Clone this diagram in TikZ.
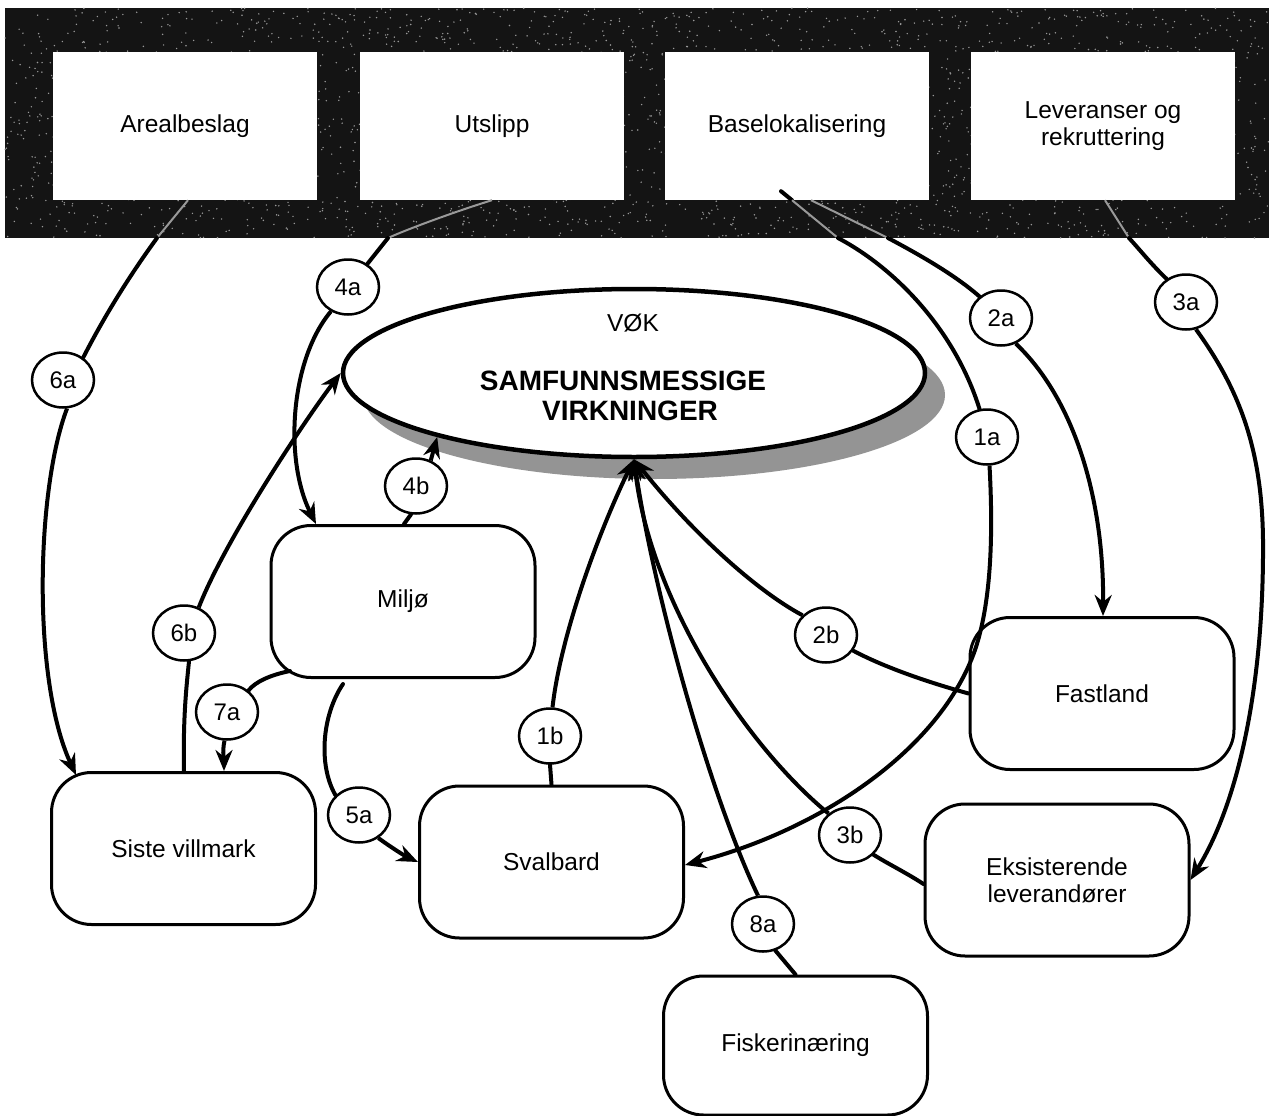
\documentclass[tikz,border=0pt]{standalone}
\usepackage{fontspec}
\setmainfont{Liberation Sans}
\usetikzlibrary{arrows.meta,shapes.geometric}

\begin{document}
\begin{tikzpicture}[x=1pt,y=-1pt,
  txt/.style={font=\fontsize{24.5}{27}\selectfont},
  topbox/.style={txt, fill=white, minimum width=264pt, minimum height=148pt, inner sep=0pt, align=center},
  roundbox/.style={txt, draw, line width=3pt, fill=white, rounded corners=40pt,
                   minimum width=264pt, minimum height=152pt, inner sep=0pt, align=center},
  badge/.style={font=\fontsize{24}{26}\selectfont, draw, ellipse, line width=2.5pt, fill=white,
                minimum width=62pt, minimum height=55pt, inner sep=0pt},
  conn/.style={line width=4pt, line cap=round},
  tipconn/.style={line width=4pt, -{Stealth[length=21pt,width=17pt]}},
  trace/.style={line width=2pt, draw=black!40}]

\useasboundingbox (0,0) rectangle (1269,1116);

% dark header band with grain
\fill[black!92] (5,8) rectangle (1269,238);
\pgfmathsetseed{7}
\foreach \k in {1,...,2600}
  \fill[black!40] ({5+1264*rnd},{8+230*rnd}) circle[radius=0.8];

% header categories
\node[topbox] (n1) at (185,126) {Arealbeslag};
\node[topbox] (n2) at (492,126) {Utslipp};
\node[topbox] (n3) at (797,126) {Baselokalisering};
\node[topbox] (n4) at (1103,126) {Leveranser og\\rekruttering};

% points where the links leave the band
\coordinate (e6a) at (157,238);
\coordinate (e4a) at (388,238);
\coordinate (e1a) at (838,238);
\coordinate (e2a) at (888,238);
\coordinate (e3a) at (1129,238);

% central ellipse with shadow
\fill[black!42] (654,395) ellipse [x radius=291, y radius=84];
\node[draw, ellipse, line width=4.5pt, fill=white, minimum width=582pt,
      minimum height=168pt, inner sep=0pt] (vok) at (634,373) {};
\node[txt, anchor=base] at (633,331) {VØK};
\node[font=\bfseries\fontsize{28}{30}\selectfont, anchor=base] at (623,390) {SAMFUNNSMESSIGE};
\node[font=\bfseries\fontsize{28}{30}\selectfont, anchor=base] at (630,420) {VIRKNINGER};

% impact areas
\node[roundbox] (milj)  at (403,601.5) {Miljø};
\node[roundbox] (siste) at (183.5,848.5) {Siste villmark};
\node[roundbox] (sval)  at (551.5,862) {Svalbard};
\node[roundbox] (fast)  at (1102,693.5) {Fastland};
\node[roundbox] (eks)   at (1057,880) {Eksisterende\\leverandører};
\node[roundbox, minimum height=139pt] (fisk) at (795.5,1045.5) {Fiskerinæring};

% numbered badges
\node[badge] (c6a) at (63,380) {6a};
\node[badge] (c4a) at (348,287) {4a};
\node[badge] (c2a) at (1001,318) {2a};
\node[badge] (c3a) at (1186,302) {3a};
\node[badge] (c1a) at (987,437) {1a};
\node[badge] (c4b) at (416,486) {4b};
\node[badge] (c6b) at (184,633) {6b};
\node[badge] (c7a) at (227,712) {7a};
\node[badge] (c2b) at (826,635) {2b};
\node[badge] (c1b) at (550,736) {1b};
\node[badge] (c5a) at (359,815) {5a};
\node[badge] (c3b) at (850,835) {3b};
\node[badge] (c8a) at (763,924) {8a};

% 6: Arealbeslag
\draw[trace] ([xshift=3pt]n1.south) -- (e6a);
\draw[conn] (e6a) .. controls (130,275) and (105,315) .. (c6a.48);
\draw[tipconn] (c6a.-82) .. controls (36,490) and (32,680) .. ([xshift=-107.5pt,yshift=-4pt]siste.north);
\draw[conn] ([xshift=0.5pt]siste.north) .. controls (183,720) and (186,690) .. (c6b.-80);
\draw[tipconn] (c6b.60) .. controls (225,540) and (305,420) .. (vok.west);

% 4: Utslipp
\draw[trace] (n2.south) .. controls (460,210) and (410,228) .. (e4a);
\draw[conn] (e4a) -- (c4a.50);
\draw[tipconn] (c4a.-125) .. controls (290,360) and (284,460) .. ([xshift=-87pt]milj.north);
\draw[conn] ([xshift=1pt]milj.north) -- (c4b.-100);
\draw[tipconn] (c4b.60) -- (vok.198.5);

% 7 and 5: Miljø
\draw[conn] ([xshift=-113pt,yshift=8pt]milj.south) .. controls (270,675) and (255,682) .. (c7a.45);
\draw[tipconn] (c7a.-95) .. controls (222,752) and (224,762) .. ([xshift=40.5pt]siste.north);
\draw[conn] ([xshift=-60pt,yshift=-5pt]milj.south) .. controls (322,715) and (318,765) .. (c5a.140);
\draw[tipconn] (c5a.-50) .. controls (392,848) and (405,856) .. (sval.west);

% 1: Baselokalisering to Svalbard
\draw[conn] ([xshift=-16pt,yshift=9pt]n3.south) -- ([xshift=-5pt]n3.south);
\draw[trace] ([xshift=-5pt]n3.south) -- (e1a);
\draw[conn] (e1a) .. controls (895,268) and (955,330) .. (c1a.105);
\draw[tipconn] (c1a.-85) .. controls (993,530) and (992,600) .. (975,650)
               .. controls (940,750) and (820,830) .. ([yshift=-3pt]sval.east);
\draw[conn] (sval.north) -- (c1b.-90);
\draw[tipconn] (c1b.85) .. controls (560,640) and (595,540) .. (vok.south);

% 2: Baselokalisering to Fastland
\draw[trace] ([xshift=14pt]n3.south) -- (e2a);
\draw[conn] (e2a) .. controls (920,255) and (955,275) .. (c2a.135);
\draw[tipconn] (c2a.-60) .. controls (1075,400) and (1104,500) .. ([xshift=1pt]fast.north);
\draw[conn] (fast.west) .. controls (920,680) and (880,665) .. (c2b.-30);
\draw[tipconn] (c2b.140) .. controls (755,590) and (690,530) .. (vok.south);

% 3: Leveranser og rekruttering
\draw[trace] ([xshift=2pt]n4.south) -- (e3a);
\draw[conn] (e3a) .. controls (1140,250) and (1152,265) .. (c3a.130);
\draw[tipconn] (c3a.-70) .. controls (1240,390) and (1262,450) .. (1263,540)
               .. controls (1264,680) and (1240,800) .. (eks.east);
\draw[conn] ([yshift=-4pt]eks.west) .. controls (905,872) and (890,865) .. (c3b.-40);
\draw[tipconn] (c3b.135) .. controls (745,745) and (650,600) .. (vok.south);

% 8: Fiskerinæring
\draw[conn] (fisk.north) -- (c8a.-65);
\draw[tipconn] (c8a.100) .. controls (712,800) and (655,600) .. (vok.south);

\end{tikzpicture}
\end{document}
